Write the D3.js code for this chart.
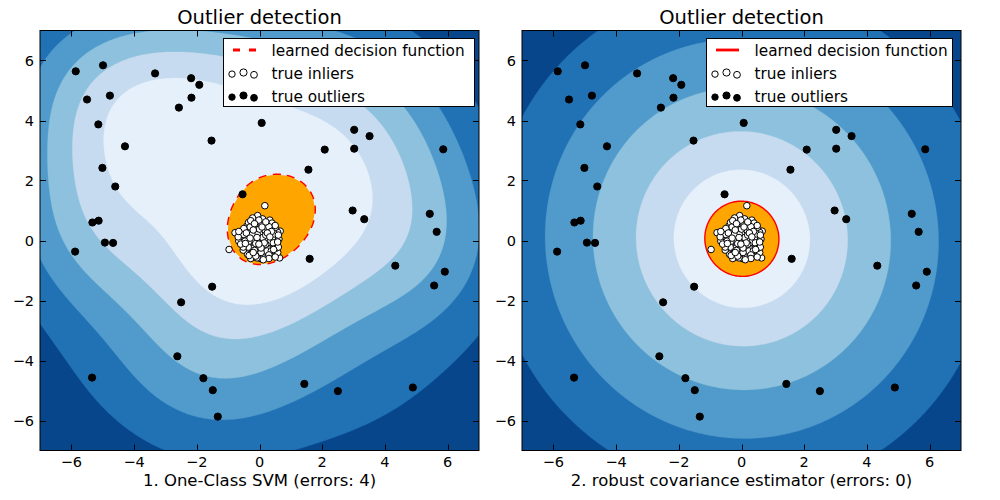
<!DOCTYPE html>
<html><head><meta charset="utf-8">
<script src="https://cdn.jsdelivr.net/npm/d3@7"></script>
<style>body{margin:0;background:#fff} text{font-family:"DejaVu Sans",sans-serif;fill:#000}</style>
</head><body><svg id="chart" width="1000" height="500"></svg>
<script>
// ---------------- data ----------------
const tickValues = [-6, -4, -2, 0, 2, 4, 6];
const panelTitles = ["Outlier detection", "Outlier detection"];
const panelXLabels = ["1. One-Class SVM (errors: 4)", "2. robust covariance estimator (errors: 0)"];
const legendLabels = ["learned decision function", "true inliers", "true outliers"];
const outliersFraction = 0.25;
const svmGamma = 0.1;
const nLevels = 7;
const bluesStops = ["#f7fbff","#deebf7","#c6dbef","#9ecae1","#6baed6","#4292c6","#2171b5","#08519c","#08306b"];

const inliers = [
[0.17,1.16],[-0.06,0.83],[0.22,0.60],[-0.25,0.51],[0.02,0.48],[0.28,0.56],[-0.78,0.26],[0.66,0.31],[-0.59,0.06],[-0.97,-0.30],
[0.64,-0.58],[0.03,-0.60],[-0.25,-0.44],[0.52,-0.37],[-0.44,-0.17],[-0.17,0.27],[-0.34,0.22],[0.14,0.22],[0.35,0.22],[0.54,0.14],
[-0.01,0.00],[0.26,-0.07],[-0.24,-0.03],[-0.41,-0.31],[-0.07,-0.36],[0.21,-0.22],[0.40,-0.18],[0.48,0.00],[0.16,-0.47],[0.35,-0.44],
[-0.12,0.64],[0.08,0.71],[-0.31,0.38],[0.41,0.43],[-0.48,0.35],[0.12,0.38],[-0.05,0.31],[0.29,0.35],[-0.62,0.18],[0.58,0.27],
[-0.21,0.12],[0.05,0.15],[0.22,0.09],[-0.38,0.05],[0.36,0.06],[-0.11,0.04],[0.11,-0.04],[-0.29,-0.12],[0.31,-0.29],[-0.16,-0.19],
[0.07,-0.15],[-0.52,-0.08],[0.56,-0.12],[-0.33,-0.38],[0.46,-0.49],[-0.02,-0.48],[0.25,-0.55],[-0.18,-0.55],[0.09,-0.31],[-0.38,-0.46],
[0.44,0.34],[-0.40,0.48],[0.33,0.68],[-0.22,0.75],[0.15,0.52],[-0.08,0.47],[0.51,0.44],[-0.55,0.30],[0.62,0.05],[-0.66,-0.02],
[0.03,0.25],[-0.27,0.31],[0.19,0.30],[-0.13,0.16],[0.27,0.16],[-0.44,0.12],[0.42,0.12],[-0.05,-0.08],[0.16,0.02],[-0.18,0.02],
[0.33,-0.06],[-0.34,-0.03],[0.00,-0.22],[-0.23,-0.27],[0.24,-0.35],[-0.10,-0.42],[0.38,-0.34],[-0.36,-0.22],[0.12,-0.58],[-0.28,-0.60],
[0.58,-0.40],[-0.52,-0.32],[0.05,0.58],[0.36,0.50],[-0.35,0.60],[0.24,0.44],[-0.15,0.40],[0.47,0.22],[-0.50,0.20],[0.10,0.10],
[-0.07,0.20],[0.31,0.27],[-0.24,0.20],[0.20,-0.12],[-0.12,-0.10],[0.44,-0.08],[-0.46,-0.02],[0.05,-0.40],[-0.16,-0.33],[0.30,-0.48],
[0.00,0.38],[0.20,0.18],[-0.30,0.45],[0.52,-0.26],[-0.50,0.40],[0.60,-0.22],[-0.68,0.12],[0.10,0.72],[-0.28,0.66],[0.40,0.58],
[-0.08,-0.58],[0.30,-0.60],[-0.12,-0.52],[0.60,0.18],[-0.52,-0.22],[0.50,0.50],[-0.02,0.68],[-0.16,0.56],[0.30,0.46],[0.58,-0.05],
[-0.66,0.30],[0.50,-0.55],[-0.33,-0.50],[0.12,-0.64],[-0.60,-0.12],[0.08,0.45],[-0.20,0.35],[0.38,0.30],[-0.42,0.25],[0.15,-0.08],
[-0.08,0.10],[0.25,0.25],[-0.30,0.08],[0.45,-0.30],[-0.20,-0.40],[0.05,-0.25],[-0.45,-0.10],[0.33,0.12],[-0.02,-0.12],[0.20,0.62]
];

const outliers = [
[-5.86,5.64],[-4.99,5.84],[-3.33,5.57],[-2.18,5.41],[-1.92,5.19],[-5.50,4.70],[-4.77,4.83],[-2.17,4.76],[-2.57,4.43],[0.07,3.92],
[-5.14,3.87],[3.02,3.69],[3.51,3.48],[-1.53,3.33],[-4.29,3.14],[2.08,3.03],[3.02,3.06],[5.86,3.04],[-5.01,2.42],[1.56,2.36],
[-4.60,1.80],[-0.54,1.54],[2.97,1.00],[5.43,0.89],[3.34,0.71],[-5.33,0.60],[-5.13,0.66],[5.65,0.29],[-4.93,-0.07],[-4.67,-0.08],
[-5.88,-0.37],[1.60,-0.61],[4.33,-0.84],[5.91,-1.04],[5.57,-1.50],[-1.51,-1.54],[-2.50,-2.06],[-2.62,-3.86],[-5.34,-4.57],[-1.79,-4.59],
[-1.49,-4.99],[1.43,-4.78],[2.50,-5.02],[4.89,-4.90],[-1.33,-5.87],
// estimated: hidden under the legend box, inferred from the contour shapes
[-0.80,4.75],[0.30,6.20],[1.20,5.00],[2.60,5.90],[4.20,5.30]
];

// ---------------- models ----------------
const X = inliers.concat(outliers);
const L = X.length;

// One-class SVM (rbf) solved with SMO
const nu = 0.95 * outliersFraction + 0.05;
const Cb = 1 / (nu * L);
const kern = (a, b, c, d) => Math.exp(-svmGamma * ((a - c) * (a - c) + (b - d) * (b - d)));
const K = new Float64Array(L * L);
for (let i = 0; i < L; i++) for (let j = 0; j < L; j++) K[i * L + j] = kern(X[i][0], X[i][1], X[j][0], X[j][1]);
const alpha = new Float64Array(L);
{
  const n0 = Math.floor(nu * L);
  for (let i = 0; i < n0; i++) alpha[i] = Cb;
  if (n0 < L) alpha[n0] = 1 - n0 * Cb;
}
const grad = new Float64Array(L);
for (let t = 0; t < L; t++) { let s = 0; for (let u = 0; u < L; u++) s += K[t * L + u] * alpha[u]; grad[t] = s; }
for (let it = 0; it < 200000; it++) {
  let i = -1, gi = Infinity, j = -1, gj = -Infinity;
  for (let t = 0; t < L; t++) {
    if (alpha[t] < Cb - 1e-14 && grad[t] < gi) { gi = grad[t]; i = t; }
    if (alpha[t] > 1e-14 && grad[t] > gj) { gj = grad[t]; j = t; }
  }
  if (i < 0 || j < 0 || gj - gi < 1e-9) break;
  let eta = 2 - 2 * K[i * L + j]; if (eta < 1e-12) eta = 1e-12;
  let d = (gj - gi) / eta;
  d = Math.min(d, Cb - alpha[i], alpha[j]);
  alpha[i] += d; alpha[j] -= d;
  for (let t = 0; t < L; t++) grad[t] += d * (K[t * L + i] - K[t * L + j]);
}
const svs = X.map((p, i) => [p[0], p[1], alpha[i]]).filter(s => s[2] > 1e-12);
const svmDecision = (x, y) => { let s = 0; for (const v of svs) s += v[2] * kern(x, y, v[0], v[1]); return s; };

// Robust covariance (Mahalanobis based)
const mx = d3.mean(inliers, d => d[0]), my = d3.mean(inliers, d => d[1]);
const sxx = d3.mean(inliers, d => (d[0] - mx) ** 2), syy = d3.mean(inliers, d => (d[1] - my) ** 2);
const sxy = d3.mean(inliers, d => (d[0] - mx) * (d[1] - my));
const det = sxx * syy - sxy * sxy;
const ixx = syy / det, iyy = sxx / det, ixy = -sxy / det;
const covDecision = (x, y) => {
  const dx = x - mx, dy = y - my;
  const m = dx * dx * ixx + 2 * dx * dy * ixy + dy * dy * iyy;
  return -Math.pow(m, 0.33);
};

// ---------------- drawing ----------------
const svg = d3.select("#chart");
const GN = 281;
const gridVals = d3.range(GN).map(i => -7 + 14 * i / (GN - 1));
const blues = d3.scaleLinear().domain(d3.range(9).map(i => i / 8)).range(bluesStops).interpolate(d3.interpolateRgb);
const bandColor = k => blues(1 - (k + 0.5) / (nLevels - 1));

const panels = [
  { left: 40, right: 479, fn: svmDecision, dashed: true },
  { left: 522, right: 961, fn: covDecision, dashed: false }
];
const axTop = 30.5, axBottom = 450.5;

panels.forEach((P, pi) => {
  const xS = d3.scaleLinear().domain([-7, 7]).range([P.left, P.right]);
  const yS = d3.scaleLinear().domain([-7, 7]).range([axBottom, axTop]);
  const Z = new Float64Array(GN * GN);
  for (let j = 0; j < GN; j++) for (let i = 0; i < GN; i++) Z[j * GN + i] = P.fn(gridVals[i], gridVals[j]);
  const scores = X.map(p => P.fn(p[0], p[1]));
  const thr = d3.quantile(scores, outliersFraction);
  const zmin = d3.min(Z);
  const levels = d3.range(nLevels).map(k => zmin + (thr - zmin) * k / (nLevels - 1));
  const g2d = c => -7 + (c - 0.5) * 14 / (GN - 1);
  const proj = d3.geoTransform({ point(x, y) { this.stream.point(xS(g2d(x)), yS(g2d(y))); } });
  const path = d3.geoPath(proj);
  const zArr = Array.from(Z);

  const clipId = "clip" + pi;
  svg.append("clipPath").attr("id", clipId).append("rect")
    .attr("x", P.left).attr("y", axTop).attr("width", P.right - P.left).attr("height", axBottom - axTop);
  const g = svg.append("g").attr("clip-path", `url(#${clipId})`);

  const bands = d3.contours().size([GN, GN]).thresholds(levels.slice(0, nLevels - 1))(zArr);
  bands.forEach((c, k) => {
    g.append("path").attr("d", path(c)).attr("fill", bandColor(k)).attr("stroke", bandColor(k)).attr("stroke-width", 0.3);
  });
  const thrContour = d3.contours().size([GN, GN]).thresholds([thr])(zArr)[0];
  g.append("path").attr("d", path(thrContour)).attr("fill", "none").attr("stroke", "#ff0000")
    .attr("stroke-width", 2.8).attr("stroke-dasharray", P.dashed ? "8,6.5" : null);
  g.append("path").attr("d", path(thrContour)).attr("fill", "#ffa500");

  g.selectAll(".inl").data(inliers).join("circle")
    .attr("cx", d => xS(d[0])).attr("cy", d => yS(d[1])).attr("r", 3.3)
    .attr("fill", "#fff").attr("stroke", "#000").attr("stroke-width", 1);
  g.selectAll(".outl").data(outliers).join("circle")
    .attr("cx", d => xS(d[0])).attr("cy", d => yS(d[1])).attr("r", 3.6)
    .attr("fill", "#000").attr("stroke", "#000").attr("stroke-width", 1);

  svg.append("rect").attr("x", P.left).attr("y", axTop).attr("width", P.right - P.left).attr("height", axBottom - axTop)
    .attr("fill", "none").attr("stroke", "#000").attr("stroke-width", 1);
  const tk = svg.append("g").attr("stroke", "#000").attr("stroke-width", 1);
  tickValues.forEach(v => {
    const x = Math.round(xS(v)) + 0.5, y = Math.round(yS(v)) + 0.5;
    tk.append("line").attr("x1", x).attr("x2", x).attr("y1", axBottom).attr("y2", axBottom - 6);
    tk.append("line").attr("x1", x).attr("x2", x).attr("y1", axTop).attr("y2", axTop + 6);
    tk.append("line").attr("y1", y).attr("y2", y).attr("x1", P.left).attr("x2", P.left + 6);
    tk.append("line").attr("y1", y).attr("y2", y).attr("x1", P.right).attr("x2", P.right - 6);
  });
  const fmt = v => (v < 0 ? "\u2212" + Math.abs(v) : String(v));
  svg.append("g").selectAll("text").data(tickValues).join("text")
    .attr("x", d => xS(d)).attr("y", 467).attr("text-anchor", "middle").attr("font-size", 14.5).text(fmt);
  svg.append("g").selectAll("text").data(tickValues).join("text")
    .attr("x", P.left - 6).attr("y", d => yS(d) + 5.2).attr("text-anchor", "end").attr("font-size", 14.5).text(fmt);

  svg.append("text").attr("x", (P.left + P.right) / 2).attr("y", 23.5).attr("text-anchor", "middle")
    .attr("font-size", 19.5).text(panelTitles[pi]);
  svg.append("text").attr("x", (P.left + P.right) / 2).attr("y", 486).attr("text-anchor", "middle")
    .attr("font-size", 16.5).text(panelXLabels[pi]);

  const lx = pi === 0 ? 223 : 706, lr = pi === 0 ? 474 : 952;
  const lg = svg.append("g");
  lg.append("rect").attr("x", lx + 0.5).attr("y", 38.5).attr("width", lr - lx).attr("height", 68)
    .attr("fill", "#fff").attr("stroke", "#000").attr("stroke-width", 1);
  lg.append("line").attr("x1", lx + 10).attr("x2", lx + 33).attr("y1", 50).attr("y2", 50)
    .attr("stroke", "#ff0000").attr("stroke-width", 2.8).attr("stroke-dasharray", P.dashed ? "7,9" : null);
  const offs = [[9, 1.6, 3.2], [20.5, 0, 3.6], [31, 2.3, 3.4]];
  offs.forEach(o => {
    lg.append("circle").attr("cx", lx + o[0]).attr("cy", 72.5 + o[1]).attr("r", o[2])
      .attr("fill", "#fff").attr("stroke", "#000").attr("stroke-width", 1);
    lg.append("circle").attr("cx", lx + o[0]).attr("cy", 95.5 + o[1]).attr("r", o[2])
      .attr("fill", "#000").attr("stroke", "#000").attr("stroke-width", 1);
  });
  legendLabels.forEach((t, k) => {
    lg.append("text").attr("x", lx + 48.5).attr("y", 55.5 + k * 23).attr("font-size", 15.3).text(t);
  });
});
</script></body></html>
